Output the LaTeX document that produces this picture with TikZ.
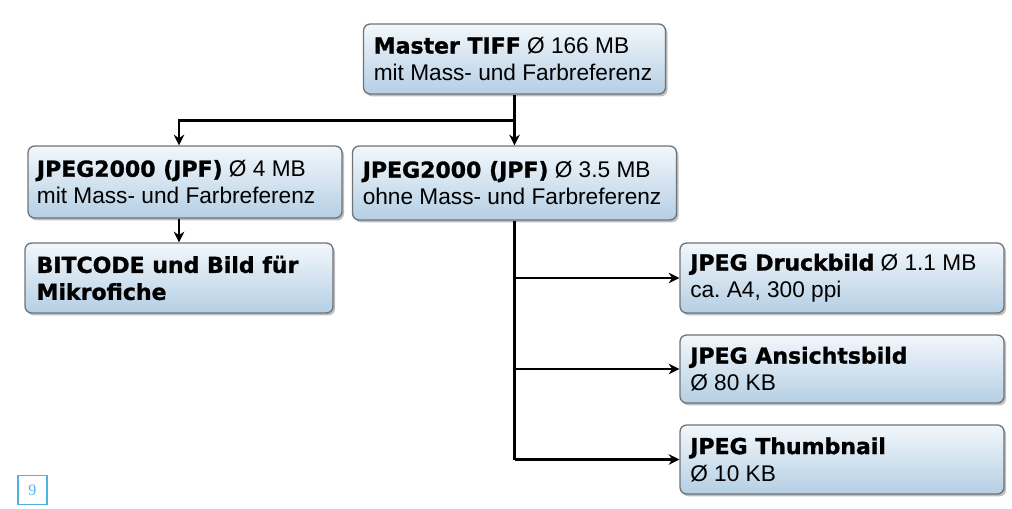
\documentclass[tikz,border=0pt]{standalone}
\usepackage{fontspec}
\setmainfont{Liberation Sans}
\newfontfamily\hvy{DejaVu Sans}[BoldFeatures={FakeBold=1.2}]
\newfontfamily\pgfont{Liberation Serif}
\usetikzlibrary{arrows.meta,shadows}
\definecolor{boxtop}{HTML}{F2F7FB}
\definecolor{boxbot}{HTML}{B5CFE4}
\definecolor{boxline}{HTML}{6E7377}
\definecolor{pgblue}{HTML}{4DB3E6}
\tikzset{
 box/.style={draw=boxline, line width=1pt, rounded corners=5pt, top color=boxtop, bottom color=boxbot,
   drop shadow={shadow xshift=1.5pt, shadow yshift=-1.8pt, fill=black!50, opacity=0.5}},
 txt/.style={anchor=west, align=left, inner sep=0pt, font=\fontsize{17}{20.25}\selectfont},
 conn/.style={line width=1.8pt, -{Stealth[length=8pt,width=8pt]}},
 trunk/.style={line width=1.8pt}
}
\newcommand\hb[1]{{\hvy\bfseries\fontsize{16.5}{20.25}\selectfont #1}}
\frenchspacing
\begin{document}
\begin{tikzpicture}[x=0.75pt,y=-0.75pt]
\useasboundingbox (0,0) rectangle (1012,508);
% boxes
\node[box, minimum width=226.5pt, minimum height=52.5pt] (M) at (514.5,59) {};
\node[txt] (Mt) at ([xshift=8pt]M.west) {\hb{Master TIFF} Ø 166 MB\\mit Mass- und Farbreferenz};
\node[box, minimum width=235.5pt, minimum height=54pt] (JL) at (185,182) {};
\node[txt] (JLt) at ([xshift=7pt]JL.west) {\hb{JPEG2000 (JPF)} Ø 4 MB\\mit Mass- und Farbreferenz};
\node[box, minimum width=243pt, minimum height=55.5pt] (JR) at (514.5,183) {};
\node[txt] (JRt) at ([xshift=8pt]JR.west) {\hb{JPEG2000 (JPF)} Ø 3.5 MB\\ohne Mass- und Farbreferenz};
\node[box, minimum width=231pt, minimum height=52.5pt] (BIT) at (179,278) {};
\node[txt] (BITt) at ([xshift=9pt]BIT.west) {\hb{BITCODE und Bild für}\\\hb{Mikrofiche}};
\node[box, minimum width=243pt, minimum height=52.5pt] (DR) at (842,278) {};
\node[txt] (DRt) at ([xshift=8pt]DR.west) {\hb{JPEG Druckbild} Ø 1.1 MB\\ca. A4, 300 ppi};
\node[box, minimum width=243pt, minimum height=51pt] (AN) at (842,369) {};
\node[txt] (ANt) at ([xshift=8pt]AN.west) {\hb{JPEG Ansichtsbild}\\Ø 80 KB};
\node[box, minimum width=243pt, minimum height=51.75pt] (TH) at (842,459.5) {};
\node[txt] (THt) at ([xshift=8pt]TH.west) {\hb{JPEG Thumbnail}\\Ø 10 KB};
% page number
\node[draw=pgblue, line width=1pt, minimum size=21.75pt, inner sep=0pt, text=pgblue,
  font=\pgfont\fontsize{12}{13}\selectfont] (pg) at (32.5,490) {9};
% connectors
\draw[trunk] (M.south) -- ++(0,26) coordinate (j);
\draw[conn] (j) -- (JR.north);
\draw[conn] (j) -| (JL.north -| BIT.north);
\draw[conn] (JL.south -| BIT.north) -- (BIT.north);
\draw[trunk] (JR.south) -- (JR.south |- TH.west);
\foreach \n in {DR,AN,TH} \draw[conn] (JR.south |- \n.west) -- (\n.west);
\end{tikzpicture}
\end{document}
